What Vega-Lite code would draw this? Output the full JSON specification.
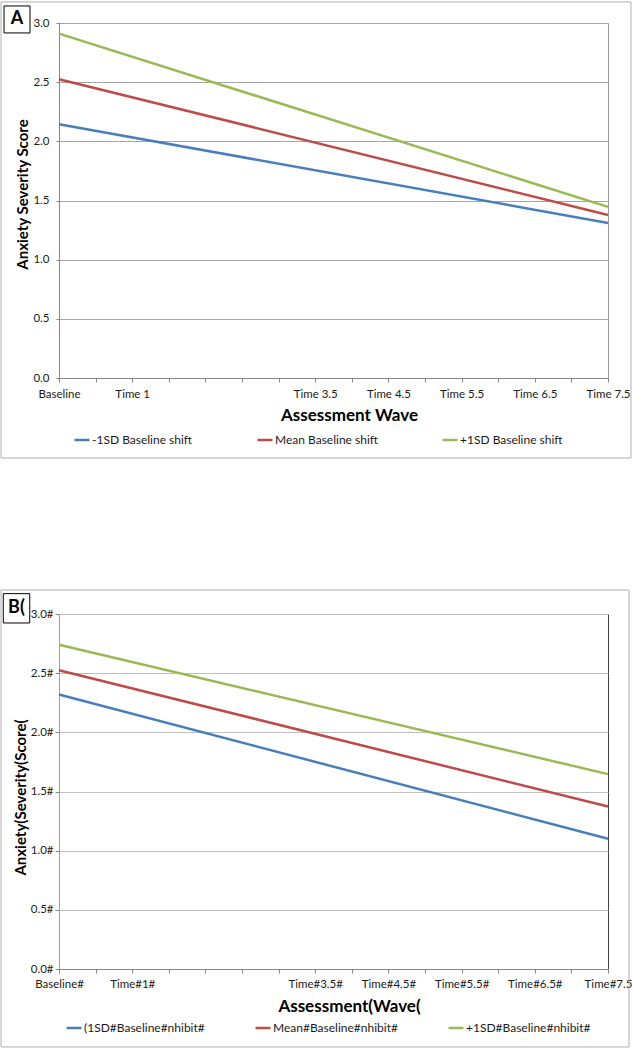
{
  "$schema": "https://vega.github.io/schema/vega-lite/v6.json",
  "padding": 0,
  "background": "white",
  "spacing": 129,
  "config": {
    "font": "Lato",
    "view": {"stroke": null},
    "axis": {"labelFont": "Lato", "titleFont": "Lato", "labelColor": "#1a1a1a", "titleColor": "#000000", "labelFontSize": 11.5, "titleFontSize": 17, "titleFontWeight": "bold"},
    "legend": {"labelFont": "Lato", "labelFontSize": 12, "labelColor": "#1a1a1a"}
  },
  "resolve": {"scale": {"color": "independent", "x": "independent", "y": "independent"}, "legend": {"color": "independent"}},
  "vconcat": [
    {
      "width": 549,
      "height": 355,
      "view": {"stroke": "#9a9a9a"},
      "layer": [
        {
          "data": {"values": [
            {"wave": 0, "score": 2.145, "series": "-1SD Baseline shift"},
            {"wave": 7.5, "score": 1.31, "series": "-1SD Baseline shift"},
            {"wave": 0, "score": 2.525, "series": "Mean Baseline shift"},
            {"wave": 7.5, "score": 1.378, "series": "Mean Baseline shift"},
            {"wave": 0, "score": 2.91, "series": "+1SD Baseline shift"},
            {"wave": 7.5, "score": 1.446, "series": "+1SD Baseline shift"}
          ]},
          "mark": {"type": "line", "strokeWidth": 2.5},
          "encoding": {
            "x": {
              "field": "wave", "type": "quantitative",
              "scale": {"domain": [0, 7.5], "nice": false, "zero": false},
              "axis": {"title": "Assessment Wave", "values": [0, 0.5, 1, 1.5, 2, 2.5, 3, 3.5, 4, 4.5, 5, 5.5, 6, 6.5, 7, 7.5], "labelExpr": "datum.value == 0 ? 'Baseline' : datum.value == 1 ? 'Time 1' : (datum.value >= 3.5 && datum.value % 1 == 0.5) ? 'Time ' + datum.value : ''", "labelOverlap": false, "labelBound": false, "labelFlush": false, "grid": false, "domainColor": "#868686", "tickColor": "#868686", "tickSize": 4, "labelPadding": 6, "titleX": 290, "titleY": 37, "titleAlign": "center", "titleBaseline": "middle"}
            },
            "y": {
              "field": "score", "type": "quantitative",
              "scale": {"domain": [0, 3], "nice": false},
              "axis": {"title": "Anxiety Severity Score", "values": [0, 0.5, 1, 1.5, 2, 2.5, 3], "format": ".1f", "grid": true, "gridColor": "#a6a6a6", "domainColor": "#868686", "tickColor": "#868686", "tickSize": 3, "labelPadding": 7, "titleFontSize": 15, "titleAngle": -90, "titleX": -37, "titleY": 171, "titleAlign": "center", "titleBaseline": "middle"}
            },
            "color": {
              "field": "series", "type": "nominal",
              "scale": {"domain": ["-1SD Baseline shift", "Mean Baseline shift", "+1SD Baseline shift"], "range": ["#4A7EBB", "#BE4B48", "#98B954"]},
              "legend": {"title": null, "orient": "none", "direction": "horizontal", "legendX": 14, "legendY": 408, "symbolType": "stroke", "symbolSize": 225, "symbolStrokeWidth": 2.5, "labelOffset": 1, "columnPadding": 59, "padding": 0}
            }
          }
        },
        {
          "data": {"values": [{}]},
          "mark": {"type": "rect", "filled": false, "fillOpacity": 0, "stroke": "#b0b0b0", "strokeWidth": 1},
          "encoding": {
            "x": {"datum": -0.792, "type": "quantitative",
              "axis": {"title": "Assessment Wave", "values": [0, 0.5, 1, 1.5, 2, 2.5, 3, 3.5, 4, 4.5, 5, 5.5, 6, 6.5, 7, 7.5], "labelExpr": "datum.value == 0 ? 'Baseline' : datum.value == 1 ? 'Time 1' : (datum.value >= 3.5 && datum.value % 1 == 0.5) ? 'Time ' + datum.value : ''", "labelOverlap": false, "labelBound": false, "labelFlush": false, "grid": false, "domainColor": "#868686", "tickColor": "#868686", "tickSize": 4, "labelPadding": 6, "titleX": 290, "titleY": 37, "titleAlign": "center", "titleBaseline": "middle"}},
            "x2": {"datum": 7.814},
            "y": {"datum": 3.178, "type": "quantitative",
              "axis": {"title": "Anxiety Severity Score", "values": [0, 0.5, 1, 1.5, 2, 2.5, 3], "format": ".1f", "grid": true, "gridColor": "#a6a6a6", "domainColor": "#868686", "tickColor": "#868686", "tickSize": 3, "labelPadding": 7, "titleFontSize": 15, "titleAngle": -90, "titleX": -37, "titleY": 171, "titleAlign": "center", "titleBaseline": "middle"}},
            "y2": {"datum": -0.676}
          }
        },
        {
          "data": {"values": [{}]},
          "mark": {"type": "rect", "fill": "white", "stroke": "#000000", "strokeWidth": 1},
          "encoding": {
            "x": {"datum": -0.751, "type": "quantitative",
              "axis": {"title": "Assessment Wave", "values": [0, 0.5, 1, 1.5, 2, 2.5, 3, 3.5, 4, 4.5, 5, 5.5, 6, 6.5, 7, 7.5], "labelExpr": "datum.value == 0 ? 'Baseline' : datum.value == 1 ? 'Time 1' : (datum.value >= 3.5 && datum.value % 1 == 0.5) ? 'Time ' + datum.value : ''", "labelOverlap": false, "labelBound": false, "labelFlush": false, "grid": false, "domainColor": "#868686", "tickColor": "#868686", "tickSize": 4, "labelPadding": 6, "titleX": 290, "titleY": 37, "titleAlign": "center", "titleBaseline": "middle"}},
            "x2": {"datum": -0.396},
            "y": {"datum": 3.144, "type": "quantitative",
              "axis": {"title": "Anxiety Severity Score", "values": [0, 0.5, 1, 1.5, 2, 2.5, 3], "format": ".1f", "grid": true, "gridColor": "#a6a6a6", "domainColor": "#868686", "tickColor": "#868686", "tickSize": 3, "labelPadding": 7, "titleFontSize": 15, "titleAngle": -90, "titleX": -37, "titleY": 171, "titleAlign": "center", "titleBaseline": "middle"}},
            "y2": {"datum": 2.916}
          }
        },
        {
          "data": {"values": [{}]},
          "mark": {"type": "text", "text": "A", "fontSize": 18, "fontWeight": "bold", "font": "Lato", "align": "center", "baseline": "middle", "color": "#000000"},
          "encoding": {
            "x": {"datum": -0.574, "type": "quantitative",
              "axis": {"title": "Assessment Wave", "values": [0, 0.5, 1, 1.5, 2, 2.5, 3, 3.5, 4, 4.5, 5, 5.5, 6, 6.5, 7, 7.5], "labelExpr": "datum.value == 0 ? 'Baseline' : datum.value == 1 ? 'Time 1' : (datum.value >= 3.5 && datum.value % 1 == 0.5) ? 'Time ' + datum.value : ''", "labelOverlap": false, "labelBound": false, "labelFlush": false, "grid": false, "domainColor": "#868686", "tickColor": "#868686", "tickSize": 4, "labelPadding": 6, "titleX": 290, "titleY": 37, "titleAlign": "center", "titleBaseline": "middle"}},
            "y": {"datum": 3.03, "type": "quantitative",
              "axis": {"title": "Anxiety Severity Score", "values": [0, 0.5, 1, 1.5, 2, 2.5, 3], "format": ".1f", "grid": true, "gridColor": "#a6a6a6", "domainColor": "#868686", "tickColor": "#868686", "tickSize": 3, "labelPadding": 7, "titleFontSize": 15, "titleAngle": -90, "titleX": -37, "titleY": 171, "titleAlign": "center", "titleBaseline": "middle"}}
          }
        }
      ]
    },
    {
      "width": 549,
      "height": 355,
      "view": {"stroke": "#404040"},
      "layer": [
        {
          "data": {"values": [
            {"wave": 0, "score": 2.32, "series": "(1SD#Baseline#nhibit#"},
            {"wave": 7.5, "score": 1.1, "series": "(1SD#Baseline#nhibit#"},
            {"wave": 0, "score": 2.525, "series": "Mean#Baseline#nhibit#"},
            {"wave": 7.5, "score": 1.373, "series": "Mean#Baseline#nhibit#"},
            {"wave": 0, "score": 2.74, "series": "+1SD#Baseline#nhibit#"},
            {"wave": 7.5, "score": 1.647, "series": "+1SD#Baseline#nhibit#"}
          ]},
          "mark": {"type": "line", "strokeWidth": 2.5},
          "encoding": {
            "x": {
              "field": "wave", "type": "quantitative",
              "scale": {"domain": [0, 7.5], "nice": false, "zero": false},
              "axis": {"title": "Assessment(Wave(", "values": [0, 0.5, 1, 1.5, 2, 2.5, 3, 3.5, 4, 4.5, 5, 5.5, 6, 6.5, 7, 7.5], "labelExpr": "datum.value == 0 ? 'Baseline#' : datum.value == 1 ? 'Time#1#' : datum.value == 7.5 ? 'Time#7.5' : (datum.value >= 3.5 && datum.value % 1 == 0.5) ? 'Time#' + datum.value + '#' : ''", "labelOverlap": false, "labelBound": false, "labelFlush": false, "grid": false, "domainColor": "#868686", "tickColor": "#868686", "tickSize": 4, "labelPadding": 5, "titleX": 290, "titleY": 37, "titleAlign": "center", "titleBaseline": "middle"}
            },
            "y": {
              "field": "score", "type": "quantitative",
              "scale": {"domain": [0, 3], "nice": false},
              "axis": {"title": "Anxiety(Severity(Score(", "values": [0, 0.5, 1, 1.5, 2, 2.5, 3], "labelExpr": "format(datum.value, '.1f') + '#'", "grid": true, "gridColor": "#c0c0c0", "domainColor": "#a0a0a0", "tickColor": "#868686", "tickSize": 4, "labelPadding": 2, "titleFontSize": 15, "titleAngle": -90, "titleX": -38.5, "titleY": 183, "titleAlign": "center", "titleBaseline": "middle"}
            },
            "color": {
              "field": "series", "type": "nominal",
              "scale": {"domain": ["(1SD#Baseline#nhibit#", "Mean#Baseline#nhibit#", "+1SD#Baseline#nhibit#"], "range": ["#4A7EBB", "#BE4B48", "#98B954"]},
              "legend": {"title": null, "orient": "none", "direction": "horizontal", "legendX": 6, "legendY": 405, "symbolType": "stroke", "symbolSize": 225, "symbolStrokeWidth": 2.5, "labelOffset": 1, "columnPadding": 45, "padding": 0}
            }
          }
        },
        {
          "data": {"values": [{}]},
          "mark": {"type": "rect", "filled": false, "fillOpacity": 0, "stroke": "#b0b0b0", "strokeWidth": 1},
          "encoding": {
            "x": {"datum": -0.792, "type": "quantitative",
              "axis": {"title": "Assessment(Wave(", "values": [0, 0.5, 1, 1.5, 2, 2.5, 3, 3.5, 4, 4.5, 5, 5.5, 6, 6.5, 7, 7.5], "labelExpr": "datum.value == 0 ? 'Baseline#' : datum.value == 1 ? 'Time#1#' : datum.value == 7.5 ? 'Time#7.5' : (datum.value >= 3.5 && datum.value % 1 == 0.5) ? 'Time#' + datum.value + '#' : ''", "labelOverlap": false, "labelBound": false, "labelFlush": false, "grid": false, "domainColor": "#868686", "tickColor": "#868686", "tickSize": 4, "labelPadding": 5, "titleX": 290, "titleY": 37, "titleAlign": "center", "titleBaseline": "middle"}},
            "x2": {"datum": 7.787},
            "y": {"datum": 3.203, "type": "quantitative",
              "axis": {"title": "Anxiety(Severity(Score(", "values": [0, 0.5, 1, 1.5, 2, 2.5, 3], "labelExpr": "format(datum.value, '.1f') + '#'", "grid": true, "gridColor": "#c0c0c0", "domainColor": "#a0a0a0", "tickColor": "#868686", "tickSize": 4, "labelPadding": 2, "titleFontSize": 15, "titleAngle": -90, "titleX": -38.5, "titleY": 183, "titleAlign": "center", "titleBaseline": "middle"}},
            "y2": {"datum": -0.659}
          }
        },
        {
          "data": {"values": [{}]},
          "mark": {"type": "rect", "fill": "white", "stroke": "#000000", "strokeWidth": 1},
          "encoding": {
            "x": {"datum": -0.761, "type": "quantitative",
              "axis": {"title": "Assessment(Wave(", "values": [0, 0.5, 1, 1.5, 2, 2.5, 3, 3.5, 4, 4.5, 5, 5.5, 6, 6.5, 7, 7.5], "labelExpr": "datum.value == 0 ? 'Baseline#' : datum.value == 1 ? 'Time#1#' : datum.value == 7.5 ? 'Time#7.5' : (datum.value >= 3.5 && datum.value % 1 == 0.5) ? 'Time#' + datum.value + '#' : ''", "labelOverlap": false, "labelBound": false, "labelFlush": false, "grid": false, "domainColor": "#868686", "tickColor": "#868686", "tickSize": 4, "labelPadding": 5, "titleX": 290, "titleY": 37, "titleAlign": "center", "titleBaseline": "middle"}},
            "x2": {"datum": -0.4},
            "y": {"datum": 3.172, "type": "quantitative",
              "axis": {"title": "Anxiety(Severity(Score(", "values": [0, 0.5, 1, 1.5, 2, 2.5, 3], "labelExpr": "format(datum.value, '.1f') + '#'", "grid": true, "gridColor": "#c0c0c0", "domainColor": "#a0a0a0", "tickColor": "#868686", "tickSize": 4, "labelPadding": 2, "titleFontSize": 15, "titleAngle": -90, "titleX": -38.5, "titleY": 183, "titleAlign": "center", "titleBaseline": "middle"}},
            "y2": {"datum": 2.924}
          }
        },
        {
          "data": {"values": [{}]},
          "mark": {"type": "text", "text": "B(", "fontSize": 18, "fontWeight": "bold", "font": "Lato", "align": "center", "baseline": "middle", "color": "#000000"},
          "encoding": {
            "x": {"datum": -0.581, "type": "quantitative",
              "axis": {"title": "Assessment(Wave(", "values": [0, 0.5, 1, 1.5, 2, 2.5, 3, 3.5, 4, 4.5, 5, 5.5, 6, 6.5, 7, 7.5], "labelExpr": "datum.value == 0 ? 'Baseline#' : datum.value == 1 ? 'Time#1#' : datum.value == 7.5 ? 'Time#7.5' : (datum.value >= 3.5 && datum.value % 1 == 0.5) ? 'Time#' + datum.value + '#' : ''", "labelOverlap": false, "labelBound": false, "labelFlush": false, "grid": false, "domainColor": "#868686", "tickColor": "#868686", "tickSize": 4, "labelPadding": 5, "titleX": 290, "titleY": 37, "titleAlign": "center", "titleBaseline": "middle"}},
            "y": {"datum": 3.051, "type": "quantitative",
              "axis": {"title": "Anxiety(Severity(Score(", "values": [0, 0.5, 1, 1.5, 2, 2.5, 3], "labelExpr": "format(datum.value, '.1f') + '#'", "grid": true, "gridColor": "#c0c0c0", "domainColor": "#a0a0a0", "tickColor": "#868686", "tickSize": 4, "labelPadding": 2, "titleFontSize": 15, "titleAngle": -90, "titleX": -38.5, "titleY": 183, "titleAlign": "center", "titleBaseline": "middle"}}
          }
        }
      ]
    }
  ]
}
